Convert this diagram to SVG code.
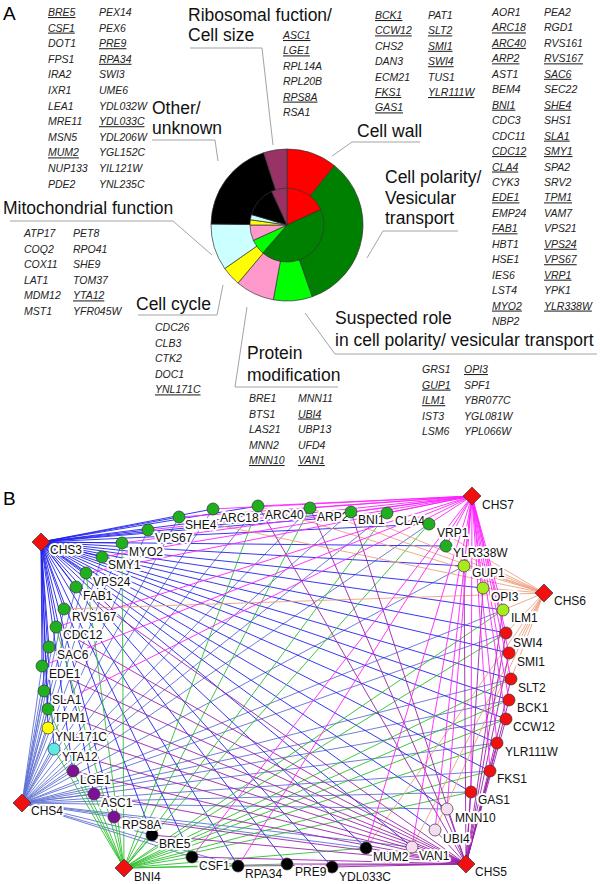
<svg xmlns="http://www.w3.org/2000/svg" width="600" height="884" viewBox="0 0 600 884">
<style>
.g{font-family:"Liberation Sans",Arial,sans-serif;font-size:10.5px;font-style:italic;fill:#222}
.u{text-decoration:underline}
.cat{font-family:"Liberation Sans",Arial,sans-serif;font-size:17.5px;fill:#111}
.ld{stroke:#999;stroke-width:0.9;fill:none}
.pie{stroke:#333;stroke-width:0.7}
.e{fill:none;stroke-width:0.9}
.c3{stroke:#2020ee}.c4{stroke:#6070d4}.c5{stroke:#9a22aa}.c7{stroke:#ff22ff}.c6{stroke:#eea080}.cb{stroke:#2fc02f}
.n{stroke:#333;stroke-width:0.7}
.gr{fill:#1faf1f}.lg{fill:#a6ec1c}.rd{fill:#f01010}.pk{fill:#f6dcef}.bk{fill:#000}.pu{fill:#7e1098}.cy{fill:#5ee8e8}.ye{fill:#ffff00}.hub{fill:#f01010}
.lbl{font-family:"Liberation Sans",Arial,sans-serif;font-size:12px;fill:#111;stroke:#fff;stroke-width:4;stroke-linejoin:round;paint-order:stroke}
.big{font-family:"Liberation Sans",Arial,sans-serif;font-size:19px;fill:#000}
</style>
<rect width="600" height="884" fill="#fff"/>
<text class="big" x="3" y="20">A</text>
<text class="big" x="3" y="505">B</text>

<g id="pie">
<path class="pie" fill="#ff0000" d="M287 225L287 149A76 76 0 0 1 334.49 165.67Z"/>
<path class="pie" fill="#008000" d="M287 225L334.49 165.67A76 76 0 0 1 312.17 296.71Z"/>
<path class="pie" fill="#00ff00" d="M287 225L312.17 296.71A76 76 0 0 1 273.27 299.75Z"/>
<path class="pie" fill="#ff99cc" d="M287 225L273.27 299.75A76 76 0 0 1 237.97 283.07Z"/>
<path class="pie" fill="#ffff00" d="M287 225L237.97 283.07A76 76 0 0 1 224.72 268.55Z"/>
<path class="pie" fill="#ccffff" d="M287 225L224.72 268.55A76 76 0 0 1 211.01 224.02Z"/>
<path class="pie" fill="#000000" d="M287 225L211.01 224.02A76 76 0 0 1 263.70 152.66Z"/>
<path class="pie" fill="#993366" d="M287 225L263.70 152.66A76 76 0 0 1 287 149Z"/>
<path class="pie" fill="#ff0000" d="M287 225L287 188A37 37 0 0 1 320.66 209.63Z"/>
<path class="pie" fill="#008000" d="M287 225L320.66 209.63A37 37 0 0 1 262.77 252.96Z"/>
<path class="pie" fill="#00ff00" d="M287 225L262.77 252.96A37 37 0 0 1 253.34 240.37Z"/>
<path class="pie" fill="#ff99cc" d="M287 225L253.34 240.37A37 37 0 0 1 250 225Z"/>
<path class="pie" fill="#ffff00" d="M287 225L250 225A37 37 0 0 1 250.38 219.73Z"/>
<path class="pie" fill="#ccffff" d="M287 225L250.38 219.73A37 37 0 0 1 251.50 214.58Z"/>
<path class="pie" fill="#000000" d="M287 225L251.50 214.58A37 37 0 0 1 271.63 191.34Z"/>
<path class="pie" fill="#993366" d="M287 225L271.63 191.34A37 37 0 0 1 287 188Z"/>
</g>

<g id="cat-ribosomal">
<text class="cat" x="188" y="21">Ribosomal fuction/</text>
<text class="cat" x="188" y="41">Cell size</text>
<path class="ld" d="M190 48H262L273 145"/>
<text class="g u" x="283" y="39">ASC1</text>
<text class="g u" x="283" y="54.4">LGE1</text>
<text class="g" x="283" y="69.8">RPL14A</text>
<text class="g" x="283" y="85.2">RPL20B</text>
<text class="g u" x="283" y="100.6">RPS8A</text>
<text class="g" x="283" y="116">RSA1</text>
</g>

<g id="cat-other">
<text class="cat" x="152" y="114">Other/</text>
<text class="cat" x="152" y="134">unknown</text>
<path class="ld" d="M152 140H215L218 161"/>
<text class="g u" x="48" y="16">BRE5</text>
<text class="g u" x="48" y="31.6">CSF1</text>
<text class="g" x="48" y="47.2">DOT1</text>
<text class="g" x="48" y="62.8">FPS1</text>
<text class="g" x="48" y="78.4">IRA2</text>
<text class="g" x="48" y="94">IXR1</text>
<text class="g" x="48" y="109.6">LEA1</text>
<text class="g" x="48" y="125.2">MRE11</text>
<text class="g" x="48" y="140.8">MSN5</text>
<text class="g u" x="48" y="156.4">MUM2</text>
<text class="g" x="48" y="172">NUP133</text>
<text class="g" x="48" y="187.6">PDE2</text>
<text class="g" x="99" y="16">PEX14</text>
<text class="g" x="99" y="31.6">PEX6</text>
<text class="g u" x="99" y="47.2">PRE9</text>
<text class="g u" x="99" y="62.8">RPA34</text>
<text class="g" x="99" y="78.4">SWI3</text>
<text class="g" x="99" y="94">UME6</text>
<text class="g" x="99" y="109.6">YDL032W</text>
<text class="g u" x="99" y="125.2">YDL033C</text>
<text class="g" x="99" y="140.8">YDL206W</text>
<text class="g" x="99" y="156.4">YGL152C</text>
<text class="g" x="99" y="172">YIL121W</text>
<text class="g" x="99" y="187.6">YNL235C</text>
</g>

<g id="cat-cellwall">
<text class="cat" x="357" y="137">Cell wall</text>
<path class="ld" d="M420 142H352L332 156"/>
<text class="g u" x="375" y="19">BCK1</text>
<text class="g u" x="375" y="34.4">CCW12</text>
<text class="g" x="375" y="49.8">CHS2</text>
<text class="g" x="375" y="65.2">DAN3</text>
<text class="g" x="375" y="80.6">ECM21</text>
<text class="g u" x="375" y="96">FKS1</text>
<text class="g u" x="375" y="111.4">GAS1</text>
<text class="g" x="428" y="19">PAT1</text>
<text class="g u" x="428" y="34.4">SLT2</text>
<text class="g u" x="428" y="49.8">SMI1</text>
<text class="g u" x="428" y="65.2">SWI4</text>
<text class="g" x="428" y="80.6">TUS1</text>
<text class="g u" x="428" y="96">YLR111W</text>
</g>

<g id="cat-polarity">
<text class="cat" x="385" y="183">Cell polarity/</text>
<text class="cat" x="385" y="204">Vesicular</text>
<text class="cat" x="385" y="224">transport</text>
<path class="ld" d="M458 231H383L367 258"/>
<text class="g" x="492" y="16">AOR1</text>
<text class="g u" x="492" y="31.45">ARC18</text>
<text class="g u" x="492" y="46.9">ARC40</text>
<text class="g u" x="492" y="62.35">ARP2</text>
<text class="g" x="492" y="77.8">AST1</text>
<text class="g" x="492" y="93.25">BEM4</text>
<text class="g u" x="492" y="108.7">BNI1</text>
<text class="g" x="492" y="124.15">CDC3</text>
<text class="g" x="492" y="139.6">CDC11</text>
<text class="g u" x="492" y="155.05">CDC12</text>
<text class="g u" x="492" y="170.5">CLA4</text>
<text class="g" x="492" y="185.95">CYK3</text>
<text class="g u" x="492" y="201.4">EDE1</text>
<text class="g" x="492" y="216.85">EMP24</text>
<text class="g u" x="492" y="232.3">FAB1</text>
<text class="g" x="492" y="247.75">HBT1</text>
<text class="g" x="492" y="263.2">HSE1</text>
<text class="g" x="492" y="278.65">IES6</text>
<text class="g" x="492" y="294.1">LST4</text>
<text class="g u" x="492" y="309.55">MYO2</text>
<text class="g" x="492" y="325">NBP2</text>
<text class="g" x="544" y="16">PEA2</text>
<text class="g" x="544" y="31.45">RGD1</text>
<text class="g" x="544" y="46.9">RVS161</text>
<text class="g u" x="544" y="62.35">RVS167</text>
<text class="g u" x="544" y="77.8">SAC6</text>
<text class="g" x="544" y="93.25">SEC22</text>
<text class="g u" x="544" y="108.7">SHE4</text>
<text class="g" x="544" y="124.15">SHS1</text>
<text class="g u" x="544" y="139.6">SLA1</text>
<text class="g u" x="544" y="155.05">SMY1</text>
<text class="g" x="544" y="170.5">SPA2</text>
<text class="g" x="544" y="185.95">SRV2</text>
<text class="g u" x="544" y="201.4">TPM1</text>
<text class="g" x="544" y="216.85">VAM7</text>
<text class="g" x="544" y="232.3">VPS21</text>
<text class="g u" x="544" y="247.75">VPS24</text>
<text class="g u" x="544" y="263.2">VPS67</text>
<text class="g u" x="544" y="278.65">VRP1</text>
<text class="g" x="544" y="294.1">YPK1</text>
<text class="g u" x="544" y="309.55">YLR338W</text>
</g>

<g id="cat-mito">
<text class="cat" x="3" y="214">Mitochondrial function</text>
<path class="ld" d="M10 221H173L212 255"/>
<text class="g" x="24" y="237">ATP17</text>
<text class="g" x="24" y="252.6">COQ2</text>
<text class="g" x="24" y="268.2">COX11</text>
<text class="g" x="24" y="283.8">LAT1</text>
<text class="g" x="24" y="299.4">MDM12</text>
<text class="g" x="24" y="315">MST1</text>
<text class="g" x="73" y="237">PET8</text>
<text class="g" x="73" y="252.6">RPO41</text>
<text class="g" x="73" y="268.2">SHE9</text>
<text class="g" x="73" y="283.8">TOM37</text>
<text class="g u" x="73" y="299.4">YTA12</text>
<text class="g" x="73" y="315">YFR045W</text>
</g>

<g id="cat-cycle">
<text class="cat" x="136" y="310">Cell cycle</text>
<path class="ld" d="M138 315H217L223 285"/>
<text class="g" x="155" y="331">CDC26</text>
<text class="g" x="155" y="346.6">CLB3</text>
<text class="g" x="155" y="362.2">CTK2</text>
<text class="g" x="155" y="377.8">DOC1</text>
<text class="g u" x="155" y="393.4">YNL171C</text>
</g>

<g id="cat-protein">
<text class="cat" x="247" y="359">Protein</text>
<text class="cat" x="247" y="381">modification</text>
<path class="ld" d="M338 387H235L247 307"/>
<text class="g" x="249" y="402">BRE1</text>
<text class="g" x="249" y="417.5">BTS1</text>
<text class="g" x="249" y="433">LAS21</text>
<text class="g" x="249" y="448.5">MNN2</text>
<text class="g u" x="249" y="464">MNN10</text>
<text class="g" x="298" y="402">MNN11</text>
<text class="g u" x="298" y="417.5">UBI4</text>
<text class="g" x="298" y="433">UBP13</text>
<text class="g" x="298" y="448.5">UFD4</text>
<text class="g u" x="298" y="464">VAN1</text>
</g>

<g id="cat-suspected">
<text class="cat" x="335" y="324">Suspected role</text>
<text class="cat" x="335" y="346">in cell polarity/ vesicular transport</text>
<path class="ld" d="M597 354H335L305 313"/>
<text class="g" x="422" y="373">GRS1</text>
<text class="g u" x="422" y="388.6">GUP1</text>
<text class="g u" x="422" y="404.2">ILM1</text>
<text class="g" x="422" y="419.8">IST3</text>
<text class="g" x="422" y="435.4">LSM6</text>
<text class="g u" x="464" y="373">OPI3</text>
<text class="g" x="464" y="388.6">SPF1</text>
<text class="g" x="464" y="404.2">YBR077C</text>
<text class="g" x="464" y="419.8">YGL081W</text>
<text class="g" x="464" y="435.4">YPL066W</text>
</g>

<g id="edges">
<path class="e c4" d="M22 803L179 517M22 803L213 509M22 803L258 506M22 803L310 508M22 803L351 512M22 803L387 513M22 803L429 524M22 803L148 530M22 803L122 543M22 803L102 557M22 803L86 573M22 803L76 587M22 803L64 609M22 803L56 627M22 803L49 647M22 803L42 666M22 803L44 691M22 803L48 709M22 803L48 728M22 803L54 749M22 803L73 771M22 803L94 794M22 803L114 817M22 803L152 835M22 803L192 857M22 803L238 866M22 803L366 848M22 803L412 847M22 803L447 809M22 803L471 792M22 803L490 771M22 803L497 743M22 803L506 719M22 803L509 700M22 803L511 679M22 803L506 633M22 803L503 610M22 803L464 566"/>
<path class="e c3" d="M41 542L179 517M41 542L213 509M41 542L258 506M41 542L310 508M41 542L351 512M41 542L387 513M41 542L429 524M41 542L446 546M41 542L464 566M41 542L483 588M41 542L503 610M41 542L506 633M41 542L509 653M41 542L511 679M41 542L509 700M41 542L506 719M41 542L497 743M41 542L490 771M41 542L471 792M41 542L447 809M41 542L435 830M41 542L412 847M41 542L366 848M41 542L332 867M41 542L287 864M41 542L238 866M41 542L192 857M41 542L152 835M41 542L114 817M41 542L94 794M41 542L73 771M41 542L54 749M41 542L48 728M41 542L48 709M41 542L44 691M41 542L42 666M41 542L49 647M41 542L56 627M41 542L64 609M41 542L76 587M41 542L86 573M41 542L102 557M41 542L122 543M41 542L148 530"/>
<path class="e cb" d="M124 868L122 543M124 868L387 513M124 868L503 610M124 868L511 679M124 868L509 700M124 868L506 719M124 868L497 743M124 868L490 771M124 868L471 792M124 868L258 506M124 868L310 508M124 868L152 835M124 868L114 817M124 868L94 794M124 868L73 771M124 868L192 857M124 868L238 866M124 868L287 864M124 868L366 848M124 868L56 627M124 868L48 709M124 868L506 633M124 868L86 573M124 868L429 524M124 868L54 749"/>
<path class="e c6" d="M544 593L179 517M544 593L258 506M544 593L310 508M544 593L351 512M544 593L429 524M544 593L446 546M544 593L464 566M544 593L483 588M544 593L503 610M544 593L506 633M544 593L509 653M544 593L511 679M544 593L64 609M544 593L412 847M544 593L366 848M544 593L435 830"/>
<path class="e c5" d="M466 864L412 847M466 864L435 830M466 864L447 809M466 864L366 848M466 864L332 867M466 864L287 864M466 864L238 866M466 864L192 857M466 864L152 835M466 864L114 817M466 864L94 794M466 864L73 771M466 864L54 749M466 864L48 728M466 864L48 709M466 864L44 691M466 864L42 666M466 864L49 647M466 864L56 627M466 864L76 587M466 864L471 792M466 864L490 771M466 864L497 743M466 864L506 719M466 864L509 700M466 864L511 679M466 864L509 653M466 864L506 633M466 864L503 610M466 864L483 588M466 864L464 566M466 864L310 508M466 864L351 512M466 864L258 506"/>
<path class="e c7" d="M472 496L179 517M472 496L213 509M472 496L258 506M472 496L310 508M472 496L351 512M472 496L387 513M472 496L429 524M472 496L446 546M472 496L148 530M472 496L122 543M472 496L102 557M472 496L86 573M472 496L56 627M472 496L42 666M472 496L48 709M472 496L464 566M472 496L483 588M472 496L503 610M472 496L506 633M472 496L509 653M472 496L511 679M472 496L509 700M472 496L506 719M472 496L497 743M472 496L490 771M472 496L471 792M472 496L447 809M472 496L435 830M472 496L412 847M472 496L366 848M472 496L238 866M472 496L192 857"/>
</g>

<g id="CHS3"><polygon class="n hub" points="41,533 50,542 41,551 32,542"/><text class="lbl" x="50" y="554">CHS3</text></g>
<g id="CHS7"><polygon class="n hub" points="472,487 481,496 472,505 463,496"/><text class="lbl" x="482" y="509">CHS7</text></g>
<g id="CHS6"><polygon class="n hub" points="544,584 553,593 544,602 535,593"/><text class="lbl" x="554" y="605">CHS6</text></g>
<g id="CHS5"><polygon class="n hub" points="466,855 475,864 466,873 457,864"/><text class="lbl" x="475" y="876">CHS5</text></g>
<g id="BNI4"><polygon class="n hub" points="124,859 133,868 124,877 115,868"/><text class="lbl" x="134" y="881">BNI4</text></g>
<g id="CHS4"><polygon class="n hub" points="22,794 31,803 22,812 13,803"/><text class="lbl" x="31" y="815">CHS4</text></g>

<g id="SHE4"><circle class="n gr" cx="179" cy="517" r="6"/><text class="lbl" x="185" y="529">SHE4</text></g>
<g id="ARC18"><circle class="n gr" cx="213" cy="509" r="6"/><text class="lbl" x="220" y="522">ARC18</text></g>
<g id="ARC40"><circle class="n gr" cx="258" cy="506" r="6"/><text class="lbl" x="265" y="519">ARC40</text></g>
<g id="ARP2"><circle class="n gr" cx="310" cy="508" r="6"/><text class="lbl" x="317" y="521">ARP2</text></g>
<g id="BNI1"><circle class="n gr" cx="351" cy="512" r="6"/><text class="lbl" x="358" y="524">BNI1</text></g>
<g id="CLA4"><circle class="n gr" cx="387" cy="513" r="6"/><text class="lbl" x="395" y="525">CLA4</text></g>
<g id="VRP1"><circle class="n gr" cx="429" cy="524" r="6"/><text class="lbl" x="437" y="537">VRP1</text></g>
<g id="YLR338W"><circle class="n gr" cx="446" cy="546" r="6"/><text class="lbl" x="453" y="557">YLR338W</text></g>
<g id="GUP1"><circle class="n lg" cx="464" cy="566" r="6"/><text class="lbl" x="472" y="577">GUP1</text></g>
<g id="OPI3"><circle class="n lg" cx="483" cy="588" r="6"/><text class="lbl" x="491" y="601">OPI3</text></g>
<g id="ILM1"><circle class="n lg" cx="503" cy="610" r="6"/><text class="lbl" x="511" y="622">ILM1</text></g>
<g id="SWI4"><circle class="n rd" cx="506" cy="633" r="6"/><text class="lbl" x="513" y="647">SWI4</text></g>
<g id="SMI1"><circle class="n rd" cx="509" cy="653" r="6"/><text class="lbl" x="517" y="666">SMI1</text></g>
<g id="SLT2"><circle class="n rd" cx="511" cy="679" r="6"/><text class="lbl" x="518" y="692">SLT2</text></g>
<g id="BCK1"><circle class="n rd" cx="509" cy="700" r="6"/><text class="lbl" x="517" y="712">BCK1</text></g>
<g id="CCW12"><circle class="n rd" cx="506" cy="719" r="6"/><text class="lbl" x="513" y="731">CCW12</text></g>
<g id="YLR111W"><circle class="n rd" cx="497" cy="743" r="6"/><text class="lbl" x="505" y="756">YLR111W</text></g>
<g id="FKS1"><circle class="n rd" cx="490" cy="771" r="6"/><text class="lbl" x="497" y="783">FKS1</text></g>
<g id="GAS1"><circle class="n rd" cx="471" cy="792" r="6"/><text class="lbl" x="478" y="804">GAS1</text></g>
<g id="MNN10"><circle class="n pk" cx="447" cy="809" r="6"/><text class="lbl" x="455" y="822">MNN10</text></g>
<g id="UBI4"><circle class="n pk" cx="435" cy="830" r="6"/><text class="lbl" x="443" y="843">UBI4</text></g>
<g id="VAN1"><circle class="n pk" cx="412" cy="847" r="6"/><text class="lbl" x="419" y="860">VAN1</text></g>
<g id="MUM2"><circle class="n bk" cx="366" cy="848" r="6"/><text class="lbl" x="373" y="861">MUM2</text></g>
<g id="YDL033C"><circle class="n bk" cx="332" cy="867" r="6"/><text class="lbl" x="339" y="881">YDL033C</text></g>
<g id="PRE9"><circle class="n bk" cx="287" cy="864" r="6"/><text class="lbl" x="295" y="876">PRE9</text></g>
<g id="RPA34"><circle class="n bk" cx="238" cy="866" r="6"/><text class="lbl" x="245" y="878">RPA34</text></g>
<g id="CSF1"><circle class="n bk" cx="192" cy="857" r="6"/><text class="lbl" x="199" y="870">CSF1</text></g>
<g id="BRE5"><circle class="n bk" cx="152" cy="835" r="6"/><text class="lbl" x="159" y="848">BRE5</text></g>
<g id="RPS8A"><circle class="n pu" cx="114" cy="817" r="6"/><text class="lbl" x="122" y="829">RPS8A</text></g>
<g id="ASC1"><circle class="n pu" cx="94" cy="794" r="6"/><text class="lbl" x="101" y="807">ASC1</text></g>
<g id="LGE1"><circle class="n pu" cx="73" cy="771" r="6"/><text class="lbl" x="80" y="784">LGE1</text></g>
<g id="YTA12"><circle class="n cy" cx="54" cy="749" r="6"/><text class="lbl" x="62" y="761">YTA12</text></g>
<g id="YNL171C"><circle class="n ye" cx="48" cy="728" r="6"/><text class="lbl" x="55" y="741">YNL171C</text></g>
<g id="TPM1"><circle class="n gr" cx="48" cy="709" r="6"/><text class="lbl" x="54" y="722">TPM1</text></g>
<g id="SLA1"><circle class="n gr" cx="44" cy="691" r="6"/><text class="lbl" x="52" y="704">SLA1</text></g>
<g id="EDE1"><circle class="n gr" cx="42" cy="666" r="6"/><text class="lbl" x="49" y="678">EDE1</text></g>
<g id="SAC6"><circle class="n gr" cx="49" cy="647" r="6"/><text class="lbl" x="57" y="659">SAC6</text></g>
<g id="CDC12"><circle class="n gr" cx="56" cy="627" r="6"/><text class="lbl" x="63" y="639">CDC12</text></g>
<g id="RVS167"><circle class="n gr" cx="64" cy="609" r="6"/><text class="lbl" x="72" y="621">RVS167</text></g>
<g id="FAB1"><circle class="n gr" cx="76" cy="587" r="6"/><text class="lbl" x="83" y="600">FAB1</text></g>
<g id="VPS24"><circle class="n gr" cx="86" cy="573" r="6"/><text class="lbl" x="93" y="586">VPS24</text></g>
<g id="SMY1"><circle class="n gr" cx="102" cy="557" r="6"/><text class="lbl" x="108" y="569">SMY1</text></g>
<g id="MYO2"><circle class="n gr" cx="122" cy="543" r="6"/><text class="lbl" x="129" y="556">MYO2</text></g>
<g id="VPS67"><circle class="n gr" cx="148" cy="530" r="6"/><text class="lbl" x="155" y="542">VPS67</text></g>
</svg>
